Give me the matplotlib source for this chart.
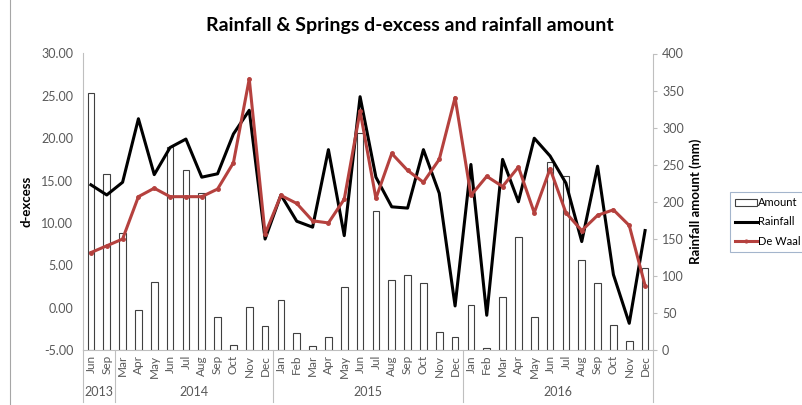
import matplotlib
matplotlib.use("Agg")
import matplotlib.pyplot as plt
import matplotlib.transforms as mtransforms
from matplotlib.patches import Patch
from matplotlib.lines import Line2D

plt.rcParams['font.family'] = ['Lato', 'DejaVu Sans']

months = ["Jun", "Sep",
          "Mar", "Apr", "May", "Jun", "Jul", "Aug", "Sep", "Oct", "Nov", "Dec",
          "Jan", "Feb", "Mar", "Apr", "May", "Jun", "Jul", "Aug", "Sep", "Oct", "Nov", "Dec",
          "Jan", "Feb", "Mar", "Apr", "May", "Jun", "Jul", "Aug", "Sep", "Oct", "Nov", "Dec"]
years = ["2013", "2014", "2015", "2016"]
year_counts = [2, 10, 12, 12]

# Monthly rainfall amount (mm)
amount = [347, 237,
          158, 54, 92, 274, 243, 212, 44, 7, 58, 33,
          67, 23, 6, 18, 85, 293, 187, 94, 101, 91, 24, 17,
          61, 3, 72, 152, 44, 254, 235, 121, 90, 34, 12, 111]

# d-excess of rainfall
rainfall = [14.5, 13.3,
            14.8, 22.3, 15.7, 18.9, 19.9, 15.4, 15.8, 20.5, 23.3, 8.1,
            13.3, 10.2, 9.5, 18.65, 8.5, 24.9, 15.4, 11.9, 11.75, 18.65, 13.5, 0.2,
            16.9, -0.9, 17.5, 12.5, 20.0, 17.9, 14.7, 7.8, 16.7, 3.9, -1.85, 9.1]

# d-excess of De Waal spring
de_waal = [6.5, 7.3,
           8.1, 13.1, 14.1, 13.1, 13.1, 13.1, 14.0, 17.1, 27.0, 8.7,
           13.25, 12.3, 10.25, 10.0, 12.8, 23.2, 12.9, 18.2, 16.2, 14.8, 17.5, 24.8,
           13.25, 15.5, 14.3, 16.6, 11.2, 16.4, 11.2, 9.1, 10.9, 11.55, 9.7, 2.6]

red = "#B5413E"
grey_axis = "#BFBFBF"
tick_col = "#595959"

fig = plt.figure(figsize=(8.02, 4.05), dpi=100)
ax = fig.add_axes([83 / 802, 1 - 350 / 405, 570 / 802, 296.5 / 405])
ax2 = ax.twinx()

x = list(range(len(months)))

# bars on the secondary (rainfall amount) axis
ax2.bar(x, amount, width=0.42, facecolor="white", edgecolor="#404040", linewidth=0.8)
ax2.set_ylim(0, 400)
ax2.set_yticks(range(0, 401, 50))
ax2.tick_params(axis='y', colors=tick_col, labelsize=9, length=3, direction='out', color=grey_axis)
ax2.set_ylabel("Rainfall amount (mm)", fontsize=9.5, fontweight='bold', labelpad=4)

# d-excess lines on the primary axis, drawn above the bars
ax.set_zorder(ax2.get_zorder() + 1)
ax.patch.set_visible(False)
ax.plot(x, rainfall, color="black", linewidth=2.2, zorder=3)
ax.plot(x, de_waal, color=red, linewidth=2.2, marker='o', markersize=2.5, zorder=4)
ax.set_ylim(-5, 30)
ax.set_yticks(range(-5, 31, 5))
ax.set_yticklabels([f"{v:.2f}" for v in range(-5, 31, 5)])
ax.tick_params(axis='y', colors=tick_col, labelsize=9, length=0, pad=7)
ax.set_ylabel("d-excess", fontsize=9.5, fontweight='bold', labelpad=6)
ax.set_xlim(-0.5, len(months) - 0.5)
ax.set_xticks([])

for a in (ax, ax2):
    a.spines['top'].set_visible(False)
    for s in ('left', 'right', 'bottom'):
        a.spines[s].set_color(grey_axis)
        a.spines[s].set_linewidth(0.8)
ax2.spines['left'].set_visible(False)
ax2.spines['bottom'].set_visible(False)
ax.spines['right'].set_visible(False)
ax2.set_xticks([])

# two-level category axis: months and years
trans = mtransforms.blended_transform_factory(ax.transData, ax.transAxes)
px = 1 / 296.5
for i, m in enumerate(months):
    ax.text(i, -5 * px, m, transform=trans, rotation=90, ha='center', va='top',
            fontsize=8.5, color=tick_col)

bounds = [-0.5]
for c in year_counts:
    bounds.append(bounds[-1] + c)
for b in bounds:
    ax.plot([b, b], [0, -52 * px], transform=trans, color=grey_axis,
            linewidth=0.8, clip_on=False)
for y, lo, hi in zip(years, bounds[:-1], bounds[1:]):
    ax.text((lo + hi) / 2, -42 * px, y, transform=trans, ha='center', va='center',
            fontsize=9, color=tick_col)

fig.text(410 / 802, 1 - 26 / 405, "Rainfall & Springs d-excess and rainfall amount",
         ha='center', va='center', fontsize=14, fontweight='bold')

# chart area border on the left
fig.add_artist(Line2D([10 / 802, 10 / 802], [0, 1], transform=fig.transFigure,
                      color="#A6A6A6", linewidth=0.8))

handles = [Patch(facecolor='white', edgecolor='#404040', linewidth=0.8),
           Line2D([], [], color='black', linewidth=2.2),
           Line2D([], [], color=red, linewidth=2.2, marker='o', markersize=2)]
leg = fig.legend(handles, ["Amount", "Rainfall", "De Waal"],
                 loc='upper left', bbox_to_anchor=(730 / 802, 1 - 192 / 405),
                 fontsize=8, frameon=True, fancybox=False, handlelength=2.0,
                 handleheight=0.6, handletextpad=0.1, labelspacing=0.75,
                 borderpad=0.45, borderaxespad=0)
leg.get_frame().set_edgecolor("#8EA3C0")
leg.get_frame().set_linewidth(0.8)

fig.savefig("out.png", dpi=100)
